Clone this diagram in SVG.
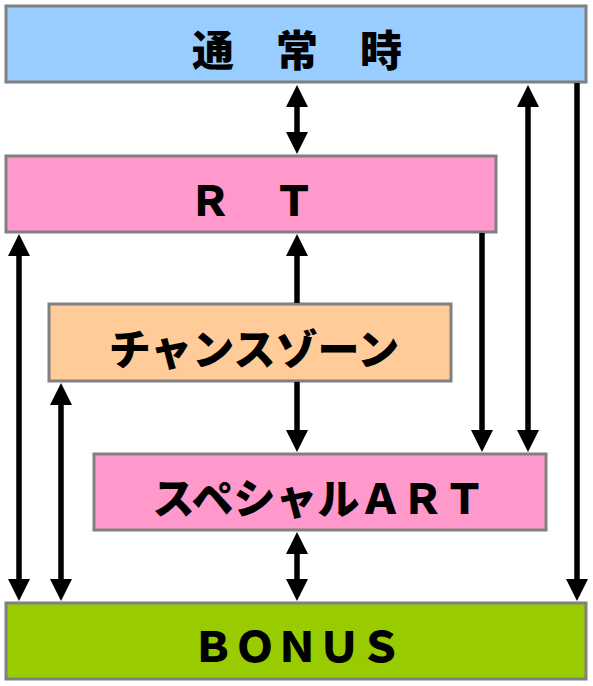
<svg xmlns="http://www.w3.org/2000/svg" width="593" height="686" viewBox="0 0 593 686">
<style>
.box{stroke:#808080;stroke-width:3}
.lbl{font-family:"Noto Sans CJK JP","Noto Sans CJK SC",sans-serif;font-weight:900;font-size:42px;fill:#000;text-anchor:middle;dominant-baseline:central}
.cn line{stroke:#000;stroke-width:5.5;fill:none}
</style>
<defs>
<marker id="ah" viewBox="0 0 22 22" markerWidth="22" markerHeight="22" markerUnits="userSpaceOnUse" refX="0" refY="11" orient="auto-start-reverse">
<path d="M0,0 L22,11 L0,22 z" fill="#000"/>
</marker>
</defs>
<rect width="593" height="686" fill="#fff"/>
<g id="normal"><rect class="box" x="6" y="6" width="580" height="76" fill="#99CCFF"/><text class="lbl" x="297" y="47">通　常　時</text></g>
<g id="rt"><rect class="box" x="6" y="156" width="490" height="76" fill="#FF99CC"/><text class="lbl" x="252" y="197">Ｒ　Ｔ</text></g>
<g id="chance"><rect class="box" x="49" y="304" width="402" height="77" fill="#FFCC99"/><text class="lbl" x="254" y="346">チャンスゾーン</text></g>
<g id="special"><rect class="box" x="94" y="454" width="452" height="76" fill="#FF99CC"/><text class="lbl" x="319" y="495">スペシャルＡＲＴ</text></g>
<g id="bonus"><rect class="box" x="6" y="603" width="580" height="76" fill="#99CC00"/><text class="lbl" x="297" y="643">ＢＯＮＵＳ</text></g>
<g id="connectors" class="cn">
<line x1="297" y1="107" x2="297" y2="132" marker-start="url(#ah)" marker-end="url(#ah)"/>
<line x1="528" y1="107" x2="528" y2="430" marker-start="url(#ah)" marker-end="url(#ah)"/>
<line x1="577" y1="83" x2="577" y2="579" marker-end="url(#ah)"/>
<line x1="482" y1="233" x2="482" y2="430" marker-end="url(#ah)"/>
<line x1="297" y1="303" x2="297" y2="256" marker-end="url(#ah)"/>
<line x1="297" y1="382" x2="297" y2="430" marker-end="url(#ah)"/>
<line x1="19" y1="256" x2="19" y2="579" marker-start="url(#ah)" marker-end="url(#ah)"/>
<line x1="61" y1="405" x2="61" y2="579" marker-start="url(#ah)" marker-end="url(#ah)"/>
<line x1="297" y1="554" x2="297" y2="579" marker-start="url(#ah)" marker-end="url(#ah)"/>
</g>
</svg>
